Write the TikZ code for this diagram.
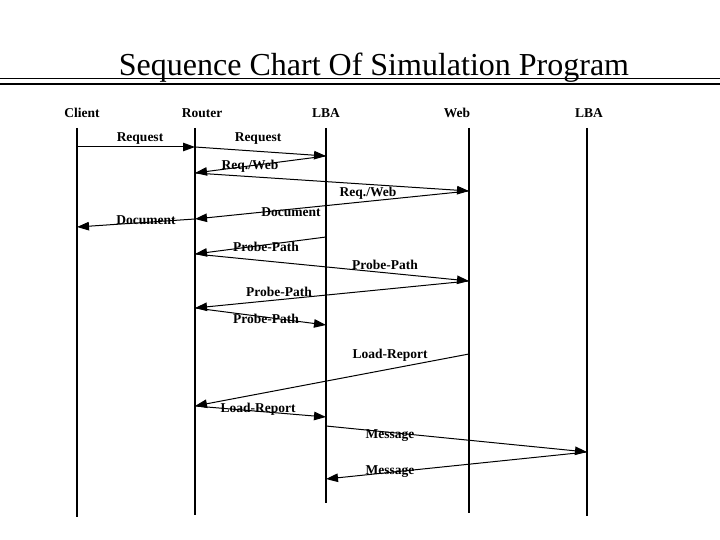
\documentclass[tikz,border=0pt]{standalone}
\usepackage{fontspec}
\setmainfont{Liberation Serif}
\usetikzlibrary{arrows.meta, positioning}

\begin{document}
\begin{tikzpicture}[x=1pt, y=-1pt,
        head/.style={font=\fontsize{13.5}{15}\selectfont\bfseries},
        lbl/.style={font=\fontsize{13.5}{15}\selectfont\bfseries, inner sep=0pt},
        life/.style={line width=1.2pt},
        msg/.style={-{Triangle[length=12pt, width=8.5pt]}, line width=1pt}
    ]
        \useasboundingbox (0,0) rectangle (720,540);

        % title
        \node[font=\fontsize{32}{36}\selectfont, anchor=base] (title) at (374,76) {Sequence Chart Of Simulation Program};
        \coordinate (rl1) at (0,78);  \coordinate (rr1) at (720,78);
        \coordinate (rl2) at (0,84);  \coordinate (rr2) at (720,84);
        \draw[line width=0.8pt] (rl1) -- (rr1);
        \draw[line width=1.2pt] (rl2) -- (rr2);

        % lifeline heads
        \node[head] (client) at (82,113) {Client};
        \node[head] (router) at (202,113) {Router};
        \node[head] (lba) at (326,113) {LBA};
        \node[head] (web) at (457,113) {Web};
        \node[head] (lbb) at (589,113) {LBA};

        % lifelines
        \coordinate (clt) at (77,128);  \coordinate (clb) at (77,517);
        \coordinate (rot) at (195,128); \coordinate (rob) at (195,515);
        \coordinate (lat) at (326,128); \coordinate (lab) at (326,503);
        \coordinate (wet) at (469,128); \coordinate (web2) at (469,513);
        \coordinate (lbt) at (587,128); \coordinate (lbb2) at (587,516);
        \draw[life] (clt) -- (clb);
        \draw[life] (rot) -- (rob);
        \draw[life] (lat) -- (lab);
        \draw[life] (wet) -- (web2);
        \draw[life] (lbt) -- (lbb2);

        % message end points
        \coordinate (a1) at (77,147);
        \coordinate (a2) at (195,147);
        \coordinate (a3) at (326,156);
        \coordinate (a4) at (195,173);
        \coordinate (a5) at (469,191);
        \coordinate (a6) at (195,219);
        \coordinate (a7) at (77,227);
        \coordinate (a8) at (326,237);
        \coordinate (a9) at (195,254);
        \coordinate (a10) at (469,281);
        \coordinate (a11) at (195,308);
        \coordinate (a12) at (326,325);
        \coordinate (a13) at (469,354);
        \coordinate (a14) at (195,406);
        \coordinate (a15) at (326,417);
        \coordinate (a16) at (326,426);
        \coordinate (a17) at (587,452);
        \coordinate (a18) at (326,479);

        % messages
        \draw[msg] (a1) -- (a2);
        \draw[msg] (a2) -- (a3);
        \draw[msg] (a3) -- (a4);
        \draw[msg] (a4) -- (a5);
        \draw[msg] (a5) -- (a6);
        \draw[msg] (a6) -- (a7);
        \draw[msg] (a8) -- (a9);
        \draw[msg] (a9) -- (a10);
        \draw[msg] (a10) -- (a11);
        \draw[msg] (a11) -- (a12);
        \draw[msg] (a13) -- (a14);
        \draw[msg] (a14) -- (a15);
        \draw[msg] (a16) -- (a17);
        \draw[msg] (a17) -- (a18);

        % message labels
        \node[lbl] (req1) at (140,139) {Request};
        \node[lbl] (req2) at (258,139) {Request};
        \node[lbl] (rw1) at (250,166) {Req./Web};
        \node[lbl] (rw2) at (368,193) {Req./Web};
        \node[lbl] (doc1) at (291,212) {Document};
        \node[lbl] (doc2) at (146,220) {Document};
        \node[lbl] (pp1) at (266,247) {Probe-Path};
        \node[lbl] (pp2) at (385,265) {Probe-Path};
        \node[lbl] (pp3) at (279,292) {Probe-Path};
        \node[lbl] (pp4) at (266,319) {Probe-Path};
        \node[lbl] (lr1) at (390,355) {Load-Report};
        \node[lbl] (lr2) at (258,409) {Load-Report};
        \node[lbl] (ms1) at (390,436) {Message};
        \node[lbl] (ms2) at (390,472) {Message};
    \end{tikzpicture}
\end{document}
